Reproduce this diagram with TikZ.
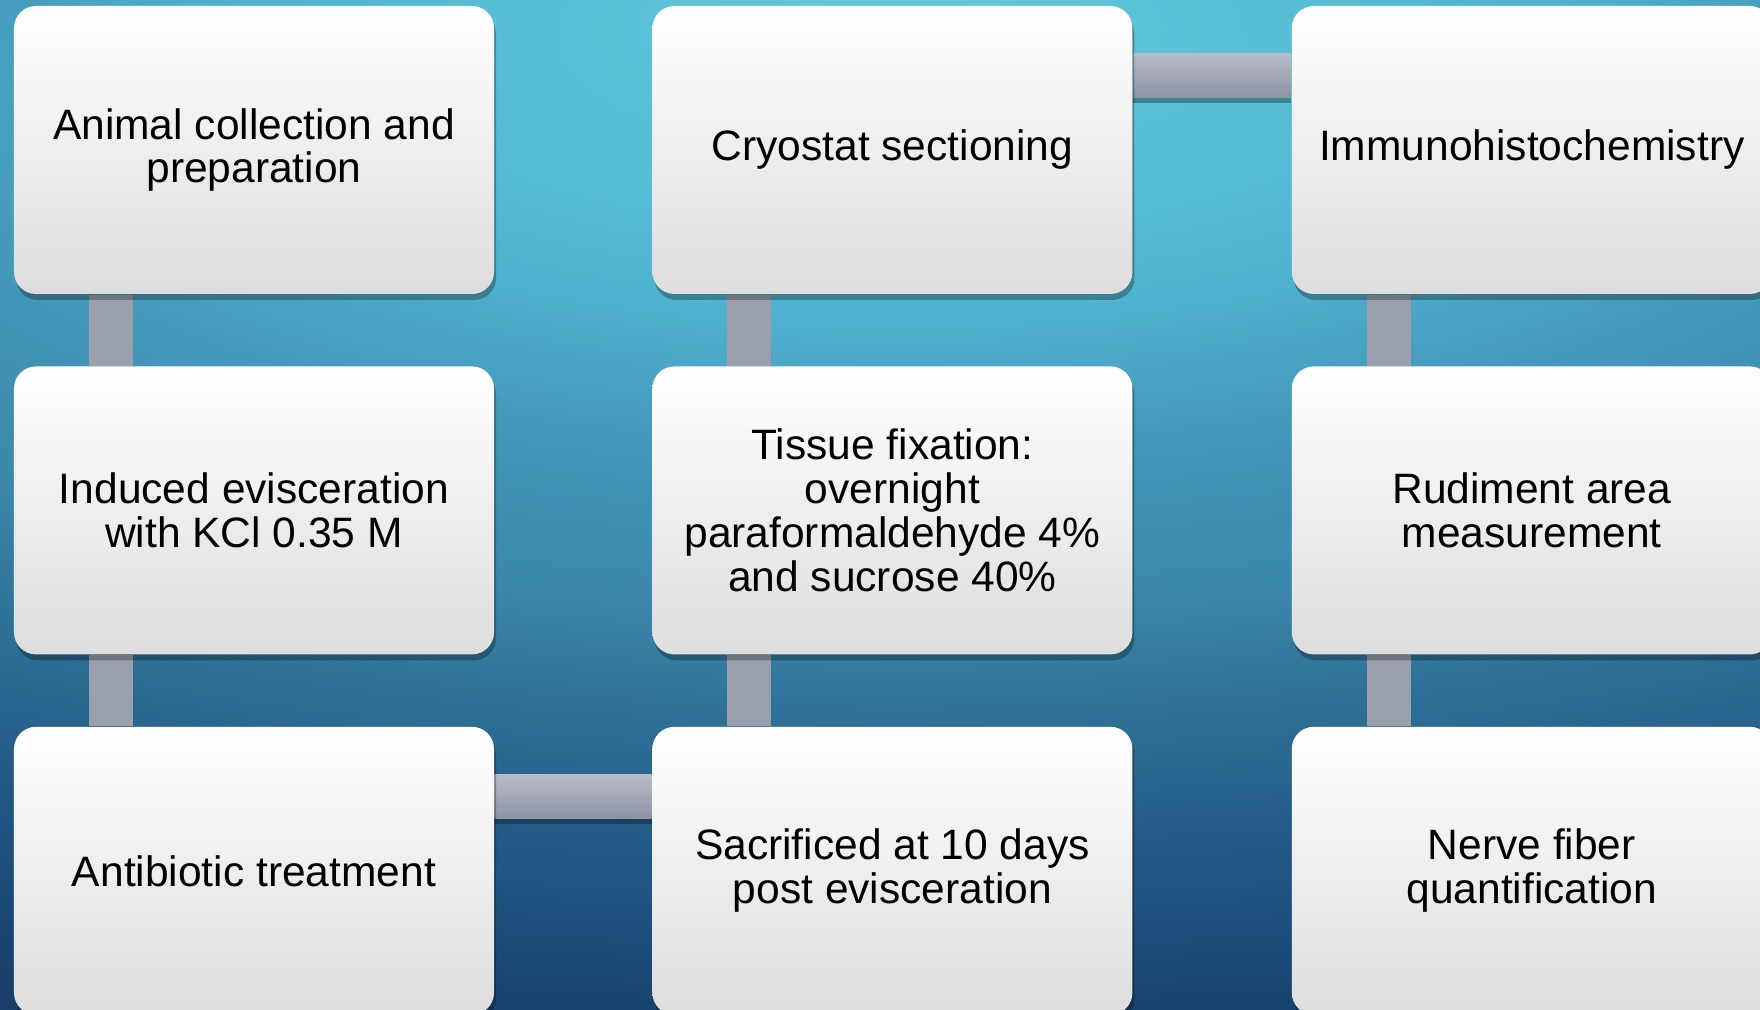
\documentclass[tikz,border=0pt]{standalone}
\usepackage{fontspec}
\setmainfont{Liberation Sans}
\usetikzlibrary{positioning, shadows}

\definecolor{bg0}{HTML}{60C8DC}
\definecolor{bg1}{HTML}{57BDD5}
\definecolor{bg2}{HTML}{4FB1CD}
\definecolor{bg3}{HTML}{4499BA}
\definecolor{bg4}{HTML}{3A87A9}
\definecolor{bg5}{HTML}{2A6890}
\definecolor{bg6}{HTML}{1F5280}
\definecolor{bg7}{HTML}{1A4470}
\definecolor{bg8}{HTML}{153A62}
\definecolor{boxbot}{HTML}{DDDDDD}
\definecolor{linkgray}{HTML}{9AA0AB}
\definecolor{linktop}{HTML}{B8BCC8}
\definecolor{linkbot}{HTML}{8C93A1}

\pgfdeclarelayer{back}
\pgfdeclarelayer{links}
\pgfsetlayers{back,links,main}

\pgfdeclareradialshading{bgshade}{\pgfpoint{0bp}{25bp}}{color(0bp)=(bg0); color(7.6bp)=(bg1); color(12.2bp)=(bg2); color(16.7bp)=(bg3); color(22.8bp)=(bg4); color(28.9bp)=(bg5); color(34.2bp)=(bg6); color(38bp)=(bg7); color(42.6bp)=(bg8); color(80bp)=(bg8)}

\begin{document}
\begin{tikzpicture}[
            stepbox/.style={rectangle, rounded corners=0.22cm, minimum width=4.8cm, minimum height=2.88cm, align=center, top color=white, bottom color=boxbot, font=\fontsize{12.1}{12.5}\selectfont, drop shadow={shadow xshift=0.02cm, shadow yshift=-0.06cm, fill=black, opacity=0.28}},
            vlink/.style={line width=0.44cm, draw=linkgray},
            hlink/.style={top color=linktop, bottom color=linkbot, drop shadow={shadow xshift=0cm, shadow yshift=-0.05cm, fill=black, opacity=0.3}}
        ]
            \useasboundingbox (0,0) rectangle (17.6,10.1);

            % --- Background ---
            \begin{pgfonlayer}{back}
              \shade[shading=bgshade] (-5.5,0) rectangle (23.5,10.1);
            \end{pgfonlayer}

            % --- Node Placement ---
            \node[stepbox] (anim) at (2.54,8.60) {Animal collection and\\preparation};
            \node[stepbox, below=0.71cm of anim] (induc) {Induced evisceration\\with KCl 0.35 M};
            \node[stepbox, below=0.71cm of induc] (antib) {Antibiotic treatment};
            \node[stepbox, right=1.57cm of antib] (sacr) {Sacrificed at 10 days\\post evisceration};
            \node[stepbox, above=0.71cm of sacr] (fix) {Tissue fixation:\\overnight\\paraformaldehyde 4\%\\and sucrose 40\%};
            \node[stepbox, above=0.71cm of fix] (cryo) {Cryostat sectioning};
            \node[stepbox, right=1.58cm of cryo] (immuno) {Immunohistochemistry};
            \node[stepbox, below=0.71cm of immuno] (rudim) {Rudiment area\\measurement};
            \node[stepbox, below=0.71cm of rudim] (nerve) {Nerve fiber\\quantification};

            % --- Link Drawing ---
            \begin{pgfonlayer}{links}
              \draw[vlink] ([xshift=-1.43cm]anim.south) -- ([xshift=-1.43cm]induc.north);
              \draw[vlink] ([xshift=-1.43cm]induc.south) -- ([xshift=-1.43cm]antib.north);
              \shade[hlink] ([yshift=0.96cm]antib.east) rectangle ([yshift=0.52cm]sacr.west);
              \draw[vlink] ([xshift=-1.43cm]sacr.north) -- ([xshift=-1.43cm]fix.south);
              \draw[vlink] ([xshift=-1.43cm]fix.north) -- ([xshift=-1.43cm]cryo.south);
              \shade[hlink] ([yshift=0.96cm]cryo.east) rectangle ([yshift=0.52cm]immuno.west);
              \draw[vlink] ([xshift=-1.43cm]immuno.south) -- ([xshift=-1.43cm]rudim.north);
              \draw[vlink] ([xshift=-1.43cm]rudim.south) -- ([xshift=-1.43cm]nerve.north);
            \end{pgfonlayer}

        \end{tikzpicture}
\end{document}
